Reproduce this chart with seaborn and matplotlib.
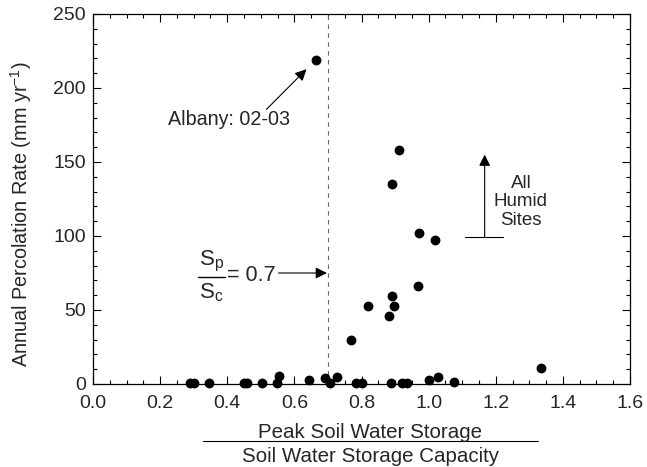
import matplotlib
matplotlib.use("Agg")
import matplotlib.pyplot as plt
import seaborn as sns
import pandas as pd
from matplotlib.lines import Line2D
from matplotlib.ticker import MultipleLocator

# Data: ratio of peak soil water storage to storage capacity vs percolation
ratio = [0.29, 0.30, 0.345, 0.45, 0.46, 0.505, 0.548, 0.555, 0.643, 0.69,
         0.706, 0.727, 0.783, 0.80, 0.888, 0.922, 0.936, 1.00, 1.027, 1.077,
         0.665, 0.911, 0.891, 0.970, 1.020, 0.967, 0.891, 0.896, 0.819, 0.882,
         0.770, 1.335]
percolation = [0.5, 0.5, 0.5, 0.5, 0.5, 0.8, 0.8, 5.4, 2.7, 3.8,
               0.9, 4.5, 0.8, 0.8, 0.8, 0.8, 0.8, 2.7, 5.0, 1.5,
               219, 158, 135, 102, 97.5, 66, 59.4, 52.6, 52.6, 46,
               29.8, 10.6]

xticks = [0.0, 0.2, 0.4, 0.6, 0.8, 1.0, 1.2, 1.4, 1.6]
yticks = [0, 50, 100, 150, 200, 250]
threshold = 0.7

df = pd.DataFrame({"ratio": ratio, "perc": percolation})

sns.set_style("ticks")
plt.rcParams["font.family"] = ["Liberation Sans", "DejaVu Sans"]
plt.rcParams["mathtext.fontset"] = "custom"
plt.rcParams["mathtext.rm"] = "Liberation Sans"
plt.rcParams["mathtext.it"] = "Liberation Sans:italic"
plt.rcParams["mathtext.bf"] = "Liberation Sans:bold"

fig = plt.figure(figsize=(6.47, 4.67), dpi=100)
ax = fig.add_axes([93 / 647, 1 - 384 / 467, (630 - 93) / 647, (384 - 14) / 467])

sns.scatterplot(data=df, x="ratio", y="perc", ax=ax, color="black", s=50,
                edgecolor="black", linewidth=0, zorder=3, legend=False,
                clip_on=False)

ax.axvline(threshold, color="0.4", lw=0.8, ls=(0, (4, 4)), zorder=1)

ax.set_xlim(0, 1.6)
ax.set_ylim(0, 250)
ax.set_xticks(xticks)
ax.set_xticklabels([f"{t:.1f}" for t in xticks])
ax.set_yticks(yticks)
ax.xaxis.set_minor_locator(MultipleLocator(0.05))
ax.yaxis.set_minor_locator(MultipleLocator(10))
ax.tick_params(which="both", direction="in", top=True, right=True,
               labelsize=14, width=0.8, color="black")
ax.tick_params(which="major", length=6)
ax.tick_params(axis="x", which="major", pad=8)
ax.tick_params(axis="y", which="major", pad=5)
ax.tick_params(which="minor", length=3)
for sp in ax.spines.values():
    sp.set_linewidth(0.9)
    sp.set_color("black")

ax.set_xlabel("")
ax.set_ylabel("Annual Percolation Rate (mm yr$^{\\mathregular{-1}}$)", fontsize=14.3)
ax.yaxis.set_label_coords(-0.11, 0.46)

# x-axis label as a fraction
fig.text(370 / 647, 1 - 432 / 467, "Peak Soil Water Storage", ha="center",
         va="center", fontsize=14.8)
fig.add_artist(Line2D([203 / 647, 538 / 647], [1 - 441 / 467, 1 - 441 / 467],
                      color="black", lw=0.8, transform=fig.transFigure))
fig.text(370 / 647, 1 - 456 / 467, "Soil Water Storage Capacity", ha="center",
         va="center", fontsize=14.8)

arrow = dict(arrowstyle="-|>", lw=0.8, color="black", mutation_scale=17,
             shrinkA=0, shrinkB=0)

# Albany annotation
ax.text(0.405, 179, "Albany: 02-03", ha="center", va="center", fontsize=14.2)
ax.annotate("", xy=(0.636, 212.7), xytext=(0.517, 185.6), arrowprops=arrow)

# Sp/Sc = 0.7 annotation
ax.text(0.353, 82.5, "S$_{\\mathregular{p}}$", ha="center", va="center",
        fontsize=16)
ax.plot([0.3125, 0.393], [72.5, 72.5], color="black", lw=1.0)
ax.text(0.353, 61.5, "S$_{\\mathregular{c}}$", ha="center", va="center",
        fontsize=16)
ax.text(0.400, 73, "= 0.7", ha="left", va="center", fontsize=15.5)
ax.annotate("", xy=(0.697, 75), xytext=(0.553, 75), arrowprops=arrow)

# All humid sites
ax.plot([1.107, 1.223], [99.3, 99.3], color="black", lw=0.8)
ax.annotate("", xy=(1.167, 155), xytext=(1.167, 99.3), arrowprops=arrow)
ax.text(1.275, 123, "All\nHumid\nSites", ha="center", va="center",
        fontsize=13.5, linespacing=1.1)

fig.savefig("out.png", dpi=100)
